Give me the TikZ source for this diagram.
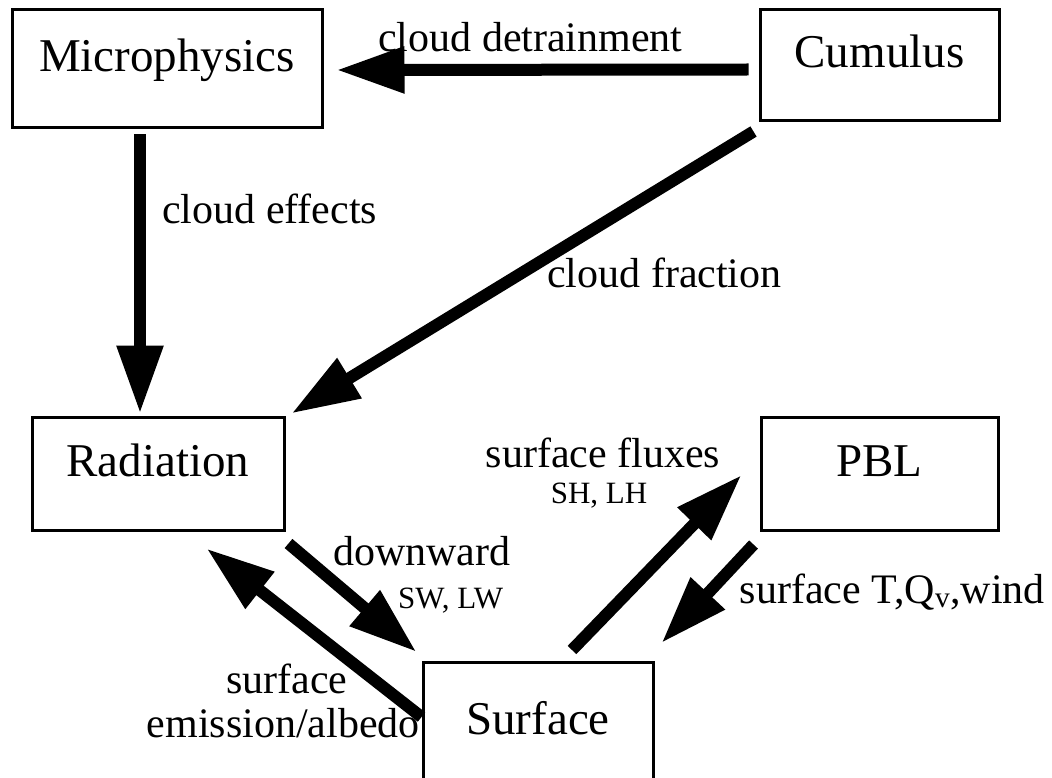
\documentclass[tikz,border=0pt]{standalone}
\usepackage{fontspec}
\setmainfont{Liberation Serif}
\usepackage{tikz}
\usetikzlibrary{arrows.meta,calc,positioning}
\tikzstyle{block}=[draw,line width=3pt,inner sep=0pt,text height=0.7em,text depth=0.2em,font=\fontsize{47}{50}\selectfont]
\tikzstyle{fatedge}=[draw,line width=12pt,-{Triangle[length=68pt,width=44pt]}]
\tikzstyle{weight}=[inner sep=0pt,font=\fontsize{42}{44}\selectfont]
\tikzstyle{smallweight}=[inner sep=0pt,font=\fontsize{31}{33}\selectfont]

\begin{document}
\begin{tikzpicture}[x=1pt,y=-1pt]
    \useasboundingbox (0,0) rectangle (1052,778);
    % First we draw the boxes
    \foreach \pos/\name/\txt/\w/\h in {{(167,69)/micro/Microphysics/310/118}, {(879.5,65.5)/cumulus/Cumulus/239/111}, {(158,473.5)/rad/Radiation/252/113}, {(879.5,473.5)/pbl/PBL/237/113}}
        \node[block,minimum width=\w pt,minimum height=\h pt] (\name) at \pos {\txt};
    % the surface box runs off the bottom
    \node[block,minimum width=230pt,anchor=north,text height=72pt,text depth=60pt] (surf) at (538,661) {Surface};

    % Connect the boxes with fat arrows
    \path[fatedge] ($(cumulus.west)+(-10,4)$) -- ($(micro.east)+(13,1)$);
    \path[fatedge] ($(micro.south)+(-27,5)$) -- ($(rad.north)+(-18,-2)$);
    \path[fatedge] ($(cumulus.south west)+(-5,9)$) -- ($(rad.north east)+(6,-2)$);
    \path[fatedge] ($(rad.south east)+(3,12)$) -- ($(surf.north west)+(-5,-9)$);
    \path[fatedge] ($(surf.north west)+(0,56)$) -- ($(rad.south east)+(-79,17)$);
    \path[fatedge] ($(surf.north)+(34,-11)$) -- ($(pbl.west)+(-18,1.5)$);
    \path[fatedge] ($(pbl.south west)+(-6,13)$) -- ($(surf.north east)+(7,-18)$);

    % and the labels
    \node[weight,anchor=base west] (detrain) at (378,52) {cloud detrainment};
    \node[weight,anchor=base west] (effects) at (162,223) {cloud effects};
    \node[weight,anchor=base west] (fraction) at (547,287) {cloud fraction};
    \node[weight,anchor=base] (fluxes) at (603,467) {surface fluxes};
    \node[smallweight,anchor=base] (fluxsub) at (599,503) {SH, LH};
    \node[weight,anchor=base west] (down) at (333,565) {downward};
    \node[smallweight,anchor=base west] (downsub) at (398,608) {SW, LW};
    \node[weight,anchor=base] (emis) at (287,693) {surface};
    \node[weight,anchor=base east] (albedo) at (420,737) {emission/albedo};
    \node[weight,anchor=base east] (wind) at (1045,603) {surface T,Q\textsubscript{v},wind};
\end{tikzpicture}
\end{document}
